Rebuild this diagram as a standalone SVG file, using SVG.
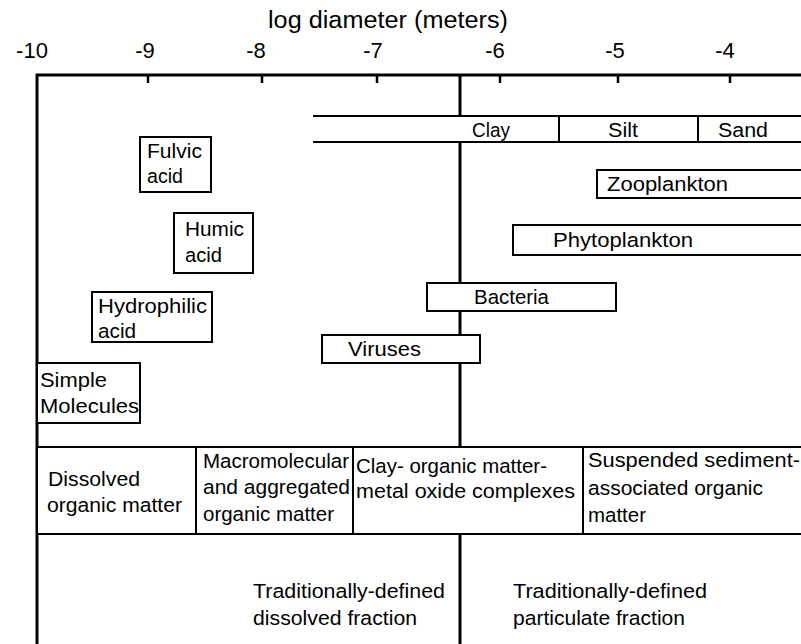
<svg xmlns="http://www.w3.org/2000/svg" width="801" height="644" viewBox="0 0 801 644">
<style>
text{font-family:"Liberation Sans",Arial,Helvetica,sans-serif;fill:#000;}
.t{font-size:20.5px;}
.tick{font-size:22px;text-anchor:middle;}
.ax{stroke:#000;stroke-width:3;fill:none;}
.tk{stroke:#000;stroke-width:2.5;}
.bx{fill:#fff;stroke:#000;stroke-width:2;}
.ln{stroke:#000;stroke-width:2;fill:none;}
</style>
<rect width="801" height="644" fill="#fff"/>
<g id="axis">
<text x="388" y="28" font-size="23" text-anchor="middle" textLength="240" lengthAdjust="spacingAndGlyphs">log diameter (meters)</text>
<text class="tick" x="32" y="58">-10</text>
<text class="tick" x="145" y="58">-9</text>
<text class="tick" x="256" y="58">-8</text>
<text class="tick" x="373" y="58">-7</text>
<text class="tick" x="495" y="58">-6</text>
<text class="tick" x="615" y="58">-5</text>
<text class="tick" x="725" y="58">-4</text>
<line class="ax" x1="36" y1="75" x2="801" y2="75"/>
<line class="ax" x1="37" y1="74" x2="37" y2="644"/>
<line class="tk" x1="148" y1="75" x2="148" y2="83"/>
<line class="tk" x1="262" y1="75" x2="262" y2="83"/>
<line class="tk" x1="377" y1="75" x2="377" y2="83"/>
<line class="tk" x1="500" y1="75" x2="500" y2="83"/>
<line class="tk" x1="618" y1="75" x2="618" y2="83"/>
<line class="tk" x1="730" y1="75" x2="730" y2="83"/>
</g>
<g id="connectors">
<line class="ax" x1="460" y1="75" x2="460" y2="644"/>
</g>
<g id="sediment-scale">
<rect x="313" y="116" width="488" height="26" fill="#fff"/>
<line class="ln" x1="313" y1="116" x2="801" y2="116"/>
<line class="ln" x1="313" y1="142" x2="801" y2="142"/>
<line class="ln" x1="559" y1="116" x2="559" y2="142"/>
<line class="ln" x1="698" y1="116" x2="698" y2="142"/>
<text class="t" x="472" y="137" textLength="38" lengthAdjust="spacingAndGlyphs">Clay</text>
<text class="t" x="608" y="137" textLength="30" lengthAdjust="spacingAndGlyphs">Silt</text>
<text class="t" x="718" y="137" textLength="50" lengthAdjust="spacingAndGlyphs">Sand</text>
</g>
<g id="zooplankton">
<rect class="bx" x="597" y="170" width="210" height="28"/>
<text class="t" x="607" y="191" textLength="121" lengthAdjust="spacingAndGlyphs">Zooplankton</text>
</g>
<g id="phytoplankton">
<rect class="bx" x="513" y="225" width="294" height="30"/>
<text class="t" x="553" y="247" textLength="140" lengthAdjust="spacingAndGlyphs">Phytoplankton</text>
</g>
<g id="bacteria">
<rect class="bx" x="427" y="283" width="189" height="28"/>
<text class="t" x="474" y="304" textLength="75" lengthAdjust="spacingAndGlyphs">Bacteria</text>
</g>
<g id="viruses">
<rect class="bx" x="322" y="335" width="158" height="28"/>
<text class="t" x="348" y="356" textLength="73" lengthAdjust="spacingAndGlyphs">Viruses</text>
</g>
<g id="fulvic-acid">
<rect class="bx" x="140" y="137" width="71" height="55"/>
<text class="t" x="147" y="158" textLength="55" lengthAdjust="spacingAndGlyphs">Fulvic</text>
<text class="t" x="147" y="183" textLength="36" lengthAdjust="spacingAndGlyphs">acid</text>
</g>
<g id="humic-acid">
<rect class="bx" x="174" y="213" width="79" height="60"/>
<text class="t" x="185" y="236" textLength="59" lengthAdjust="spacingAndGlyphs">Humic</text>
<text class="t" x="185" y="262" textLength="37" lengthAdjust="spacingAndGlyphs">acid</text>
</g>
<g id="hydrophilic-acid">
<rect class="bx" x="92" y="292" width="120" height="50"/>
<text class="t" x="98" y="313" textLength="109" lengthAdjust="spacingAndGlyphs">Hydrophilic</text>
<text class="t" x="98" y="338" textLength="38" lengthAdjust="spacingAndGlyphs">acid</text>
</g>
<g id="simple-molecules">
<rect class="bx" x="37" y="363" width="103" height="60"/>
<text class="t" x="40" y="387" textLength="67" lengthAdjust="spacingAndGlyphs">Simple</text>
<text class="t" x="40" y="413" textLength="99" lengthAdjust="spacingAndGlyphs">Molecules</text>
</g>
<g id="dissolved-om">
<rect class="bx" x="37" y="447" width="159" height="87"/>
<text class="t" x="48" y="486" textLength="92" lengthAdjust="spacingAndGlyphs">Dissolved</text>
<text class="t" x="47" y="512" textLength="135" lengthAdjust="spacingAndGlyphs">organic matter</text>
</g>
<g id="macromolecular-om">
<rect class="bx" x="196" y="447" width="157" height="87"/>
<text class="t" x="203" y="468" textLength="146" lengthAdjust="spacingAndGlyphs">Macromolecular</text>
<text class="t" x="203" y="494" textLength="147" lengthAdjust="spacingAndGlyphs">and aggregated</text>
<text class="t" x="203" y="521" textLength="131" lengthAdjust="spacingAndGlyphs">organic matter</text>
</g>
<g id="clay-complexes">
<rect class="bx" x="353" y="447" width="230" height="87"/>
<text class="t" x="356" y="473" textLength="191" lengthAdjust="spacingAndGlyphs">Clay- organic matter-</text>
<text class="t" x="356" y="498" textLength="219" lengthAdjust="spacingAndGlyphs">metal oxide complexes</text>
</g>
<g id="suspended-sediment-om">
<rect class="bx" x="583" y="447" width="224" height="87"/>
<text class="t" x="588" y="467" textLength="212" lengthAdjust="spacingAndGlyphs">Suspended  sediment-</text>
<text class="t" x="588" y="495" textLength="175" lengthAdjust="spacingAndGlyphs">associated organic</text>
<text class="t" x="588" y="522" textLength="58" lengthAdjust="spacingAndGlyphs">matter</text>
</g>
<g id="dissolved-fraction">
<text class="t" x="253" y="598" textLength="192" lengthAdjust="spacingAndGlyphs">Traditionally-defined</text>
<text class="t" x="253" y="625" textLength="164" lengthAdjust="spacingAndGlyphs">dissolved fraction</text>
</g>
<g id="particulate-fraction">
<text class="t" x="513" y="598" textLength="194" lengthAdjust="spacingAndGlyphs">Traditionally-defined</text>
<text class="t" x="513" y="625" textLength="172" lengthAdjust="spacingAndGlyphs">particulate fraction</text>
</g>
</svg>
